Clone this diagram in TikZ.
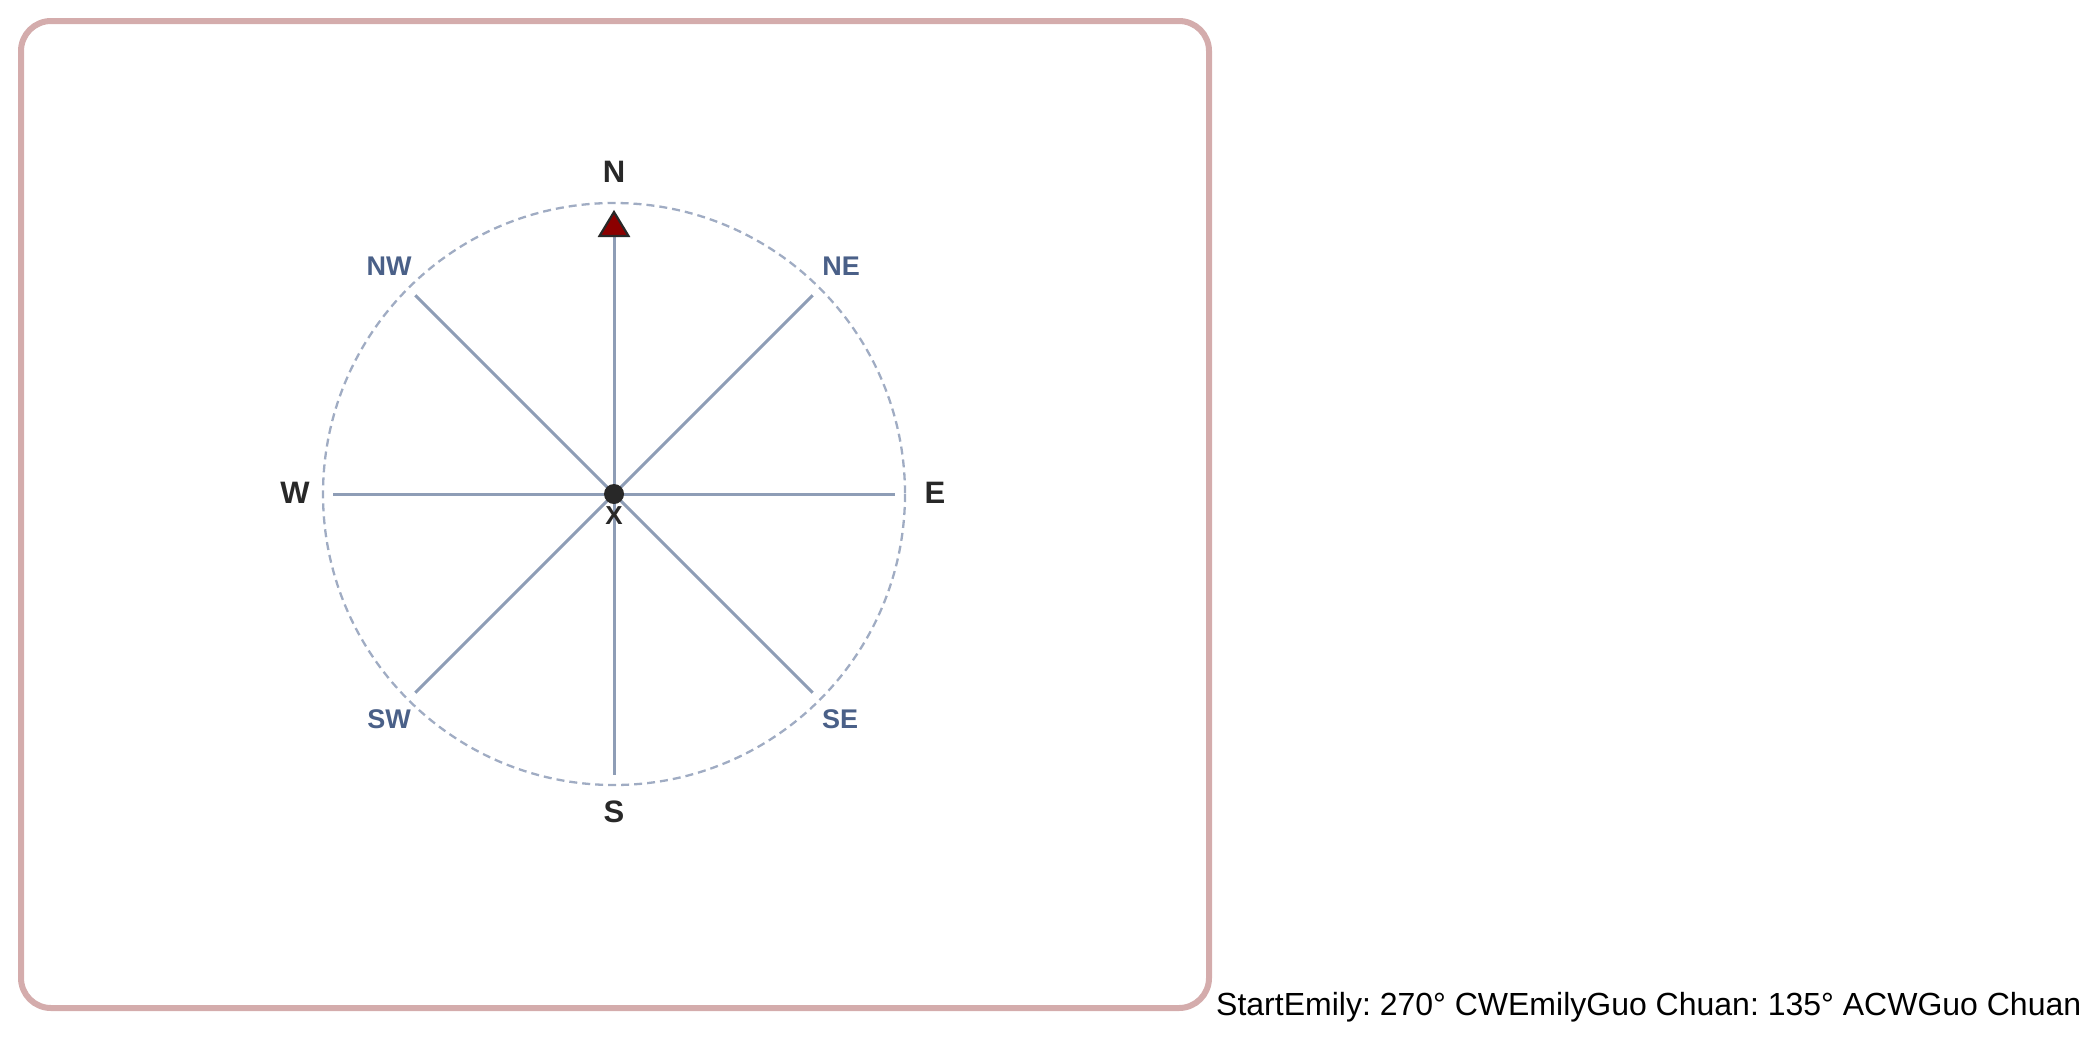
\documentclass[tikz,border=0pt]{standalone}
\usepackage{fontspec}
\setmainfont{Liberation Sans}
\frenchspacing
\definecolor{framecol}{RGB}{212,172,172}
\definecolor{spokecol}{RGB}{142,157,182}
\definecolor{ringcol}{RGB}{160,172,195}
\definecolor{intercol}{RGB}{74,96,136}
\definecolor{darktxt}{RGB}{40,40,40}
\definecolor{arrowred}{RGB}{139,0,0}
\begin{document}
\begin{tikzpicture}[x=1pt,y=-1pt,
  spoke/.style={draw=spokecol,line width=3pt},
  ring/.style={draw=ringcol,line width=2.3pt,dash pattern=on 8pt off 5pt},
  mainlbl/.style={inner sep=0pt,text=darktxt,font=\fontsize{31}{36}\selectfont\bfseries},
  interlbl/.style={inner sep=0pt,text=intercol,font=\fontsize{27}{32}\selectfont\bfseries},
  caption/.style={inner sep=0pt,anchor=base west,text=black,font=\fontsize{32}{38}\selectfont}]
\useasboundingbox (0,0) rectangle (2095,1039);
\draw[framecol,line width=6pt,rounded corners=30pt] (21,21) rectangle (1209,1008);
\coordinate (c) at (614,494);
\draw[ring] (c) circle[radius=291];
\coordinate (pE) at (895,494);
\coordinate (pW) at (333,494);
\coordinate (pS) at (614,775);
\coordinate (pN) at (614,236);
\coordinate (pNE) at (812.7,295.3);
\coordinate (pNW) at (415.3,295.3);
\coordinate (pSE) at (812.7,692.7);
\coordinate (pSW) at (415.3,692.7);
\foreach \p in {pE,pW,pS,pN,pNE,pNW,pSE,pSW} \draw[spoke] (c) -- (\p);
\coordinate (tip) at (614,212);
\coordinate (bl) at (599.5,236);
\coordinate (br) at (628.5,236);
\draw[fill=arrowred,draw=darktxt,line width=2.2pt,line join=miter] (tip) -- (br) -- (bl) -- cycle;
\fill[darktxt] (c) circle[radius=10];
\node[mainlbl] (N) at (614,172) {N};
\node[mainlbl] (S) at (614,812) {S};
\node[mainlbl] (E) at (935,493) {E};
\node[mainlbl] (W) at (295,493) {W};
\node[interlbl] (NE) at (841,266) {NE};
\node[interlbl] (NW) at (389,266) {NW};
\node[interlbl] (SE) at (840,719) {SE};
\node[interlbl] (SW) at (389,719) {SW};
\node[inner sep=0pt,text=darktxt,font=\fontsize{26}{30}\selectfont\bfseries] (X) at (614,516) {X};
\node[caption] (cap) at (1216,1015) {StartEmily: 270° CWEmilyGuo Chuan: 135° ACWGuo Chuan};
\end{tikzpicture}
\end{document}
